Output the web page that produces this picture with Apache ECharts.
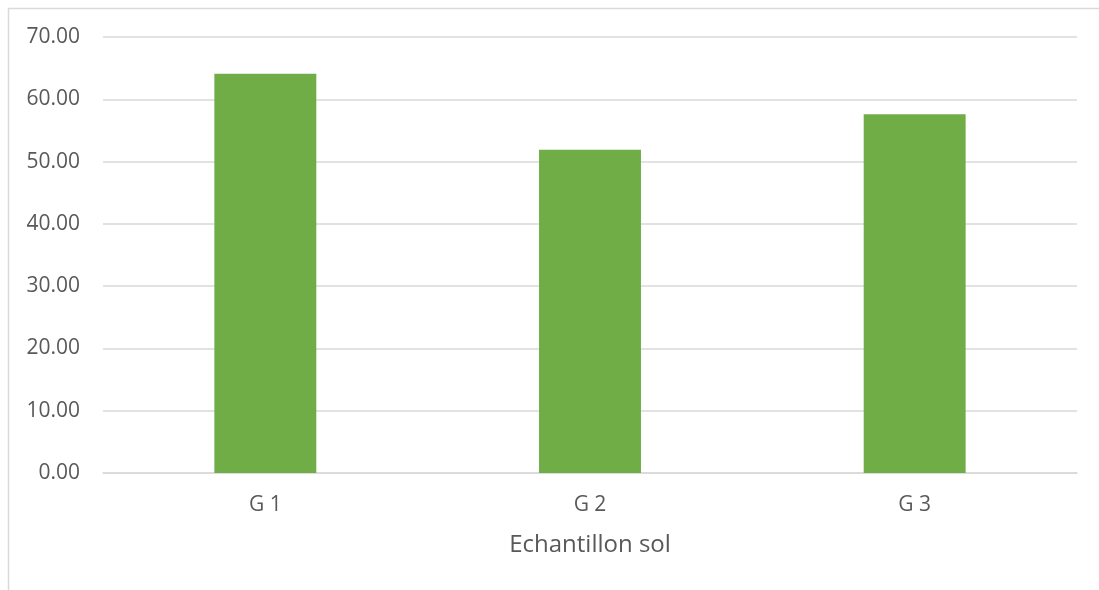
<!DOCTYPE html>
<html>
<head>
<meta charset="utf-8">
<script src="https://cdn.jsdelivr.net/npm/echarts@6/dist/echarts.min.js"></script>
<style>html,body{margin:0;padding:0;background:#fff;}#c{width:1099px;height:590px;}</style>
</head>
<body>
<div id="c"></div>
<script>
const categories = ['G 1', 'G 2', 'G 3'];
const values = [64.1, 51.9, 57.6];
const yTicks = { min: 0, max: 70, interval: 10 };
const xName = 'Echantillon sol';

const chart = echarts.init(document.getElementById('c'), null, { renderer: 'canvas' });
const font = '"Open Sans", sans-serif';
chart.setOption({
  animation: false,
  backgroundColor: '#ffffff',
  graphic: [{
    type: 'rect',
    shape: { x: 8.5, y: 8.5, width: 1200, height: 700 },
    style: { fill: 'none', stroke: '#d9d9d9', lineWidth: 1.5 },
    silent: true
  }],
  grid: { left: 103, right: 22, top: 37, bottom: 117 },
  xAxis: {
    type: 'category',
    data: categories,
    name: xName,
    nameLocation: 'middle',
    nameGap: 60,
    nameTextStyle: { fontFamily: font, fontSize: 24, color: '#595959' },
    axisLine: { show: true, lineStyle: { color: '#d9d9d9', width: 1.5 } },
    axisTick: { show: false },
    axisLabel: { fontFamily: font, fontSize: 21, color: '#595959', margin: 22 }
  },
  yAxis: {
    type: 'value',
    min: yTicks.min,
    max: yTicks.max,
    interval: yTicks.interval,
    axisLine: { show: false },
    axisTick: { show: false },
    splitLine: { lineStyle: { color: '#d9d9d9', width: 1.5 } },
    axisLabel: {
      fontFamily: font, fontSize: 21, color: '#595959', margin: 23,
      formatter: v => v.toFixed(2)
    }
  },
  series: [{
    type: 'bar',
    data: values,
    barWidth: '31.4%',
    itemStyle: { color: '#70AD47' }
  }]
});
</script>
</body>
</html>
